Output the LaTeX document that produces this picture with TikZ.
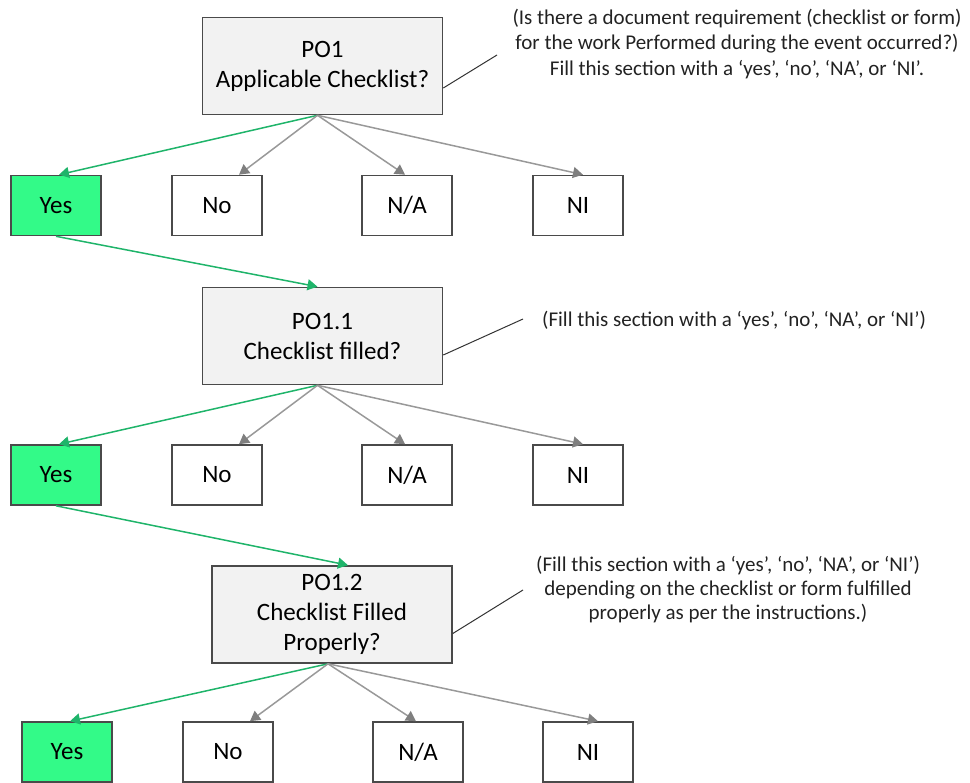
\documentclass[tikz,border=0pt]{standalone}
\usepackage{fontspec}
\setmainfont{Carlito}
\usetikzlibrary{arrows.meta,calc}
\definecolor{pofill}{HTML}{F2F2F2}
\definecolor{yesfill}{HTML}{33FA88}
\definecolor{boxline}{HTML}{4A4A4A}
\definecolor{greenline}{HTML}{1FB46A}
\definecolor{grayline}{HTML}{999999}
\definecolor{grayhead}{HTML}{7F7F7F}
\definecolor{annot}{HTML}{222222}
\tikzset{
  pobox/.style={draw=boxline, line width=1.6pt, fill=pofill, minimum width=240pt, minimum height=97pt, inner sep=0pt, align=center, font=\fontsize{25}{30}\selectfont},
  optbox/.style={draw=boxline, line width=1.6pt, fill=white, minimum width=90pt, minimum height=60pt, inner sep=0pt, font=\fontsize{25}{30}\selectfont},
  yesbox/.style={optbox, fill=yesfill},
  greenarrow/.style={draw=greenline, line width=1.5pt, -{Triangle[length=10pt,width=11pt]}},
  grayarrow/.style={draw=grayline, line width=1.5pt, -{Triangle[length=10pt,width=11pt,color=grayhead]}},
  annotext/.style={align=center, text=annot, inner sep=0pt, font=\fontsize{21}{25.5}\selectfont},
  leader/.style={draw=black!80, line width=1pt}
}
\begin{document}
\begin{tikzpicture}[x=1pt,y=-1pt]
\useasboundingbox (0,0) rectangle (970,783);

% Level 1
\node[pobox] (po1) at (322.5,66) {PO1\\Applicable Checklist?};
\node[yesbox] (yes1) at (56,205.5) {Yes};
\node[optbox] (no1) at (217,205.5) {No};
\node[optbox] (na1) at (407,205.5) {N/A};
\node[optbox] (ni1) at (578,205.5) {NI};

% Level 2
\node[pobox] (po11) at (322.5,336) {PO1.1\\Checklist filled?};
\node[yesbox] (yes2) at (56,475) {Yes};
\node[optbox] (no2) at (217,475) {No};
\node[optbox] (na2) at (407,475) {N/A};
\node[optbox] (ni2) at (578,475) {NI};

% Level 3
\node[pobox] (po12) at (332,614.5) {PO1.2\\Checklist Filled\\Properly?};
\node[yesbox] (yes3) at (67,752) {Yes};
\node[optbox] (no3) at (228,752) {No};
\node[optbox] (na3) at (418,752) {N/A};
\node[optbox] (ni3) at (588,752) {NI};

% Branch arrows level 1
\coordinate (s1) at ($(po1.south)+(-5,0)$);
\draw[greenarrow] (s1) -- ($(yes1.north)+(3,0)$);
\draw[grayarrow] (s1) -- ($(no1.north)+(22,0)$);
\draw[grayarrow] (s1) -- ($(na1.north)+(-2,0)$);
\draw[grayarrow] (s1) -- ($(ni1.north)+(5,0)$);
\draw[greenarrow] (yes1.south) -- ($(po11.north)+(-5,0)$);

% Branch arrows level 2
\coordinate (s2) at ($(po11.south)+(-5,0)$);
\draw[greenarrow] (s2) -- ($(yes2.north)+(3,0)$);
\draw[grayarrow] (s2) -- ($(no2.north)+(22,0)$);
\draw[grayarrow] (s2) -- ($(na2.north)+(-2,0)$);
\draw[grayarrow] (s2) -- ($(ni2.north)+(5,0)$);
\draw[greenarrow] (yes2.south) -- ($(po12.north)+(16,0)$);

% Branch arrows level 3
\coordinate (s3) at ($(po12.south)+(-4,0)$);
\draw[greenarrow] (s3) -- ($(yes3.north)+(3,0)$);
\draw[grayarrow] (s3) -- ($(no3.north)+(22,0)$);
\draw[grayarrow] (s3) -- ($(na3.north)+(-2,0)$);
\draw[grayarrow] (s3) -- ($(ni3.north)+(10,0)$);

% Annotations
\node[annotext] (a1) at (737,44) {(Is there a document requirement (checklist or form)\\for the work Performed during the event occurred?)\\Fill this section with a ‘yes’, ‘no’, ‘NA’, or ‘NI’.};
\coordinate (c1) at (497,55);
\draw[leader] ([yshift=-22pt]po1.east) -- (c1);

\node[annotext] (a2) at (734,321) {(Fill this section with a ‘yes’, ‘no’, ‘NA’, or ‘NI’)};
\coordinate (c2) at (523,319);
\draw[leader] ([yshift=-19pt]po11.east) -- (c2);

\node[annotext, font=\fontsize{21}{24}\selectfont] (a3) at (728,590) {(Fill this section with a ‘yes’, ‘no’, ‘NA’, or ‘NI’)\\depending on the checklist or form fulfilled\\properly as per the instructions.)};
\coordinate (c3) at (523,590);
\draw[leader] ([yshift=-19pt]po12.east) -- (c3);
\end{tikzpicture}
\end{document}
